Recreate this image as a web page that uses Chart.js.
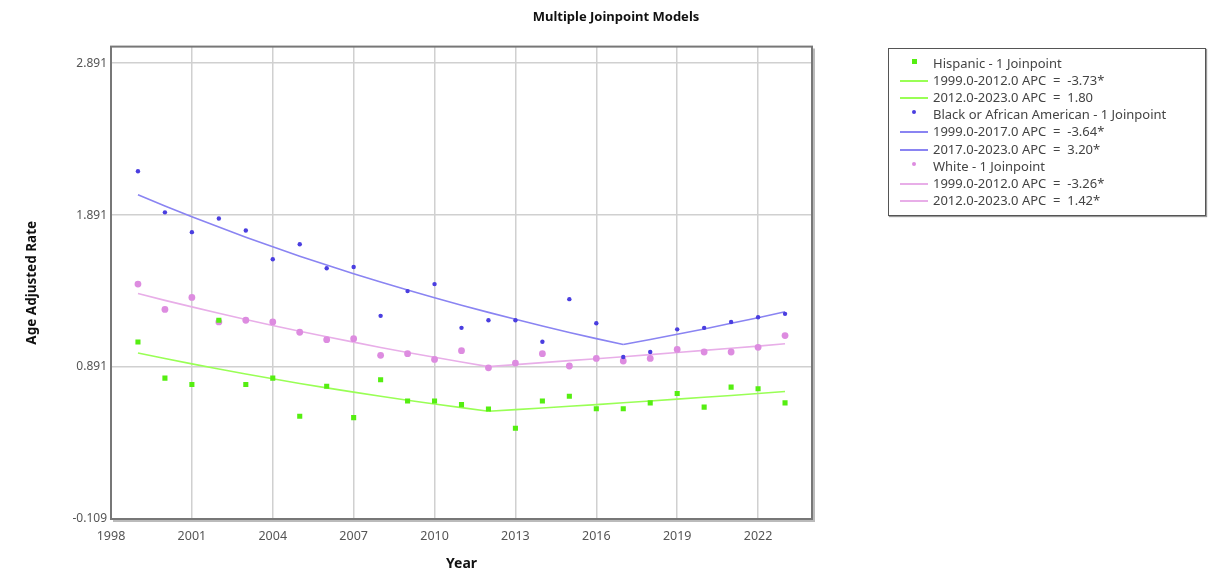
<!DOCTYPE html>
<html>
<head>
<meta charset="utf-8">
<script src="https://cdn.jsdelivr.net/npm/chart.js@4.4.1/dist/chart.umd.min.js"></script>
<style>
  html, body { margin: 0; padding: 0; background: #fff; }
  #wrap { position: relative; width: 1232px; height: 587px; }
  #legend {
    position: absolute; left: 888px; top: 48px; width: 318px; height: 168px;
    border: 1.5px solid #555; box-shadow: 1px 1px 1px #999;
    font: 13px "Noto Sans", sans-serif; color: #444; box-sizing: border-box;
  }
  .row { position: absolute; left: 0; height: 17px; line-height: 17px; white-space: pre; }
  .sym { position: absolute; left: 11px; width: 28px; height: 17px; }
  .txt { position: absolute; left: 44px; }
</style>
</head>
<body>
<div id="wrap">
  <canvas id="myChart" width="1232" height="587"></canvas>
  <div id="legend"></div>
</div>
<script>
var years = [1999, 2000, 2001, 2002, 2003, 2004, 2005, 2006, 2007, 2008, 2009, 2010,
  2011, 2012, 2013, 2014, 2015, 2016, 2017, 2018, 2019, 2020, 2021, 2022, 2023];

// observed age adjusted rates
var hispanic = [1.056, 0.818, 0.776, 1.199, 0.776, 0.818, 0.567, 0.765, 0.558, 0.807, 0.668, 0.668,
  0.644, 0.615, 0.488, 0.668, 0.699, 0.617, 0.617, 0.655, 0.717, 0.627, 0.759, 0.748, 0.655];
var black = [2.180, 1.909, 1.779, 1.869, 1.790, 1.600, 1.699, 1.541, 1.549, 1.228, 1.391, 1.437,
  1.149, 1.199, 1.199, 1.058, 1.338, 1.179, 0.957, 0.990, 1.139, 1.149, 1.188, 1.219, 1.241];
var white = [1.437, 1.270, 1.349, 1.188, 1.199, 1.188, 1.120, 1.071, 1.078, 0.968, 0.979, 0.941,
  0.999, 0.886, 0.917, 0.979, 0.898, 0.948, 0.931, 0.948, 1.007, 0.990, 0.990, 1.021, 1.098];

// modelled (joinpoint) values
var hispanicFit1 = [0.984, 0.947, 0.912, 0.878, 0.845, 0.814, 0.783, 0.754, 0.726, 0.699, 0.673, 0.648, 0.624, 0.600];
var hispanicFit2 = [0.600, 0.611, 0.622, 0.633, 0.644, 0.656, 0.668, 0.680, 0.692, 0.704, 0.717, 0.730];
var blackFit1 = [2.025, 1.951, 1.880, 1.812, 1.746, 1.683, 1.621, 1.562, 1.505, 1.451, 1.398, 1.347,
  1.298, 1.251, 1.205, 1.161, 1.119, 1.078, 1.039];
var blackFit2 = [1.039, 1.072, 1.107, 1.142, 1.179, 1.216, 1.255];
var whiteFit1 = [1.375, 1.330, 1.287, 1.245, 1.204, 1.165, 1.127, 1.090, 1.055, 1.020, 0.987, 0.955, 0.924, 0.894];
var whiteFit2 = [0.894, 0.907, 0.920, 0.933, 0.946, 0.959, 0.973, 0.987, 1.001, 1.015, 1.029, 1.044];

var labels = ["Hispanic - 1 Joinpoint", "1999.0-2012.0 APC  =  -3.73*", "2012.0-2023.0 APC  =  1.80",
  "Black or African American - 1 Joinpoint", "1999.0-2017.0 APC  =  -3.64*", "2017.0-2023.0 APC  =  3.20*",
  "White - 1 Joinpoint", "1999.0-2012.0 APC  =  -3.26*", "2012.0-2023.0 APC  =  1.42*"];

var xTicks = [1998, 2001, 2004, 2007, 2010, 2013, 2016, 2019, 2022];
var yTicks = [-0.109, 0.891, 1.891, 2.891];

function pts(xs, ys) {
  return ys.map(function (v, i) { return { x: xs[i], y: v }; });
}

var ctx = document.getElementById("myChart").getContext("2d");

function dots(label, data, color, style, r) {
  return { type: "scatter", label: label, data: data, showLine: false,
    backgroundColor: color, borderColor: color, borderWidth: 0,
    pointStyle: style, pointRadius: r, pointHoverRadius: r, order: 1 };
}
function fit(label, data, color) {
  return { type: "line", label: label, data: data, borderColor: color, borderWidth: 1.6,
    pointRadius: 0, tension: 0, fill: false, order: 2 };
}

var frame = {
  id: "frame",
  afterDraw: function (chart) {
    var a = chart.chartArea, c = chart.ctx;
    c.save();
    c.strokeStyle = "#bbb";
    c.lineWidth = 2;
    c.beginPath();
    c.moveTo(a.right + 2, a.top + 2);
    c.lineTo(a.right + 2, a.bottom + 2);
    c.lineTo(a.left + 2, a.bottom + 2);
    c.stroke();
    c.strokeStyle = "#777";
    c.lineWidth = 2;
    c.strokeRect(a.left, a.top, a.right - a.left, a.bottom - a.top);
    c.restore();
  }
};

var myChart = new Chart(ctx, {
  data: {
    datasets: [
      dots(labels[0], pts(years, hispanic), "#55ee11", "rect", 3.6),
      fit(labels[1], pts(years.slice(0, 14), hispanicFit1), "#99ff55"),
      fit(labels[2], pts(years.slice(13), hispanicFit2), "#99ff55"),
      dots(labels[3], pts(years, black), "#4a3ee0", "circle", 2.2),
      fit(labels[4], pts(years.slice(0, 19), blackFit1), "#8a84f2"),
      fit(labels[5], pts(years.slice(18), blackFit2), "#8a84f2"),
      dots(labels[6], pts(years, white), "#dd8ce0", "circle", 3.4),
      fit(labels[7], pts(years.slice(0, 14), whiteFit1), "#e8aee8"),
      fit(labels[8], pts(years.slice(13), whiteFit2), "#e8aee8"),
    ],
  },
  options: {
    responsive: false,
    animation: false,
    layout: { padding: 0 },
    plugins: {
      legend: { display: false },
      tooltip: { enabled: false },
      title: {
        display: true,
        text: "Multiple Joinpoint Models",
        color: "#111",
        font: { family: "Noto Sans", size: 13, weight: "bold" },
        padding: { top: 9, bottom: 22 },
      },
    },
    scales: {
      x: {
        type: "linear",
        min: 1998,
        max: 2024,
        afterBuildTicks: function (s) { s.ticks = xTicks.map(function (v) { return { value: v }; }); },
        afterFit: function (s) { s.height = 68; },
        grid: { color: "#d0d0d0", lineWidth: 1.5, drawTicks: false },
        border: { display: false },
        ticks: { color: "#555", padding: 10, font: { family: "Noto Sans", size: 12.5 },
          callback: function (v) { return String(v); } },
        title: { display: true, text: "Year", color: "#111",
          font: { family: "Noto Sans", size: 14, weight: "bold" }, padding: { top: 0, bottom: 15 } },
      },
      y: {
        type: "linear",
        min: -0.109,
        max: 3.0,
        afterBuildTicks: function (s) { s.ticks = yTicks.map(function (v) { return { value: v }; }); },
        afterFit: function (s) { s.width = 111; },
        grid: { color: "#d0d0d0", lineWidth: 1.5, drawTicks: false },
        border: { display: false },
        ticks: { color: "#555", padding: 4, font: { family: "Noto Sans", size: 12 },
          callback: function (v) { return v.toFixed(3); } },
        title: { display: true, text: "Age Adjusted Rate", color: "#111",
          font: { family: "Noto Sans", size: 13.5, weight: "bold" }, padding: { top: 24, bottom: 0 } },
      },
      // empty axis that keeps room on the right for the legend box
      side: {
        type: "linear",
        position: "right",
        min: 0,
        max: 1,
        afterFit: function (s) { s.width = 420; },
        grid: { display: false },
        border: { display: false },
        ticks: { display: false },
      },
    },
  },
  plugins: [frame],
});

// legend built from the same datasets
var legend = document.getElementById("legend");
myChart.data.datasets.forEach(function (ds, i) {
  var row = document.createElement("div");
  row.className = "row";
  row.style.top = (6 + i * 17.1) + "px";
  row.style.width = "100%";
  var sym = document.createElement("div");
  sym.className = "sym";
  var mark = document.createElement("div");
  mark.style.position = "absolute";
  if (ds.type === "line") {
    mark.style.left = "0px"; mark.style.width = "28px"; mark.style.top = "8px";
    mark.style.height = "2px"; mark.style.background = ds.borderColor;
  } else {
    var s = ds.pointStyle === "rect" ? 5 : 4;
    mark.style.left = (14 - s / 2) + "px"; mark.style.top = (6 - s / 2) + "px";
    mark.style.width = s + "px"; mark.style.height = s + "px";
    mark.style.background = ds.backgroundColor;
    if (ds.pointStyle !== "rect") mark.style.borderRadius = "50%";
  }
  sym.appendChild(mark);
  var txt = document.createElement("span");
  txt.className = "txt";
  txt.textContent = ds.label;
  row.appendChild(sym);
  row.appendChild(txt);
  legend.appendChild(row);
});
</script>
</body>
</html>
